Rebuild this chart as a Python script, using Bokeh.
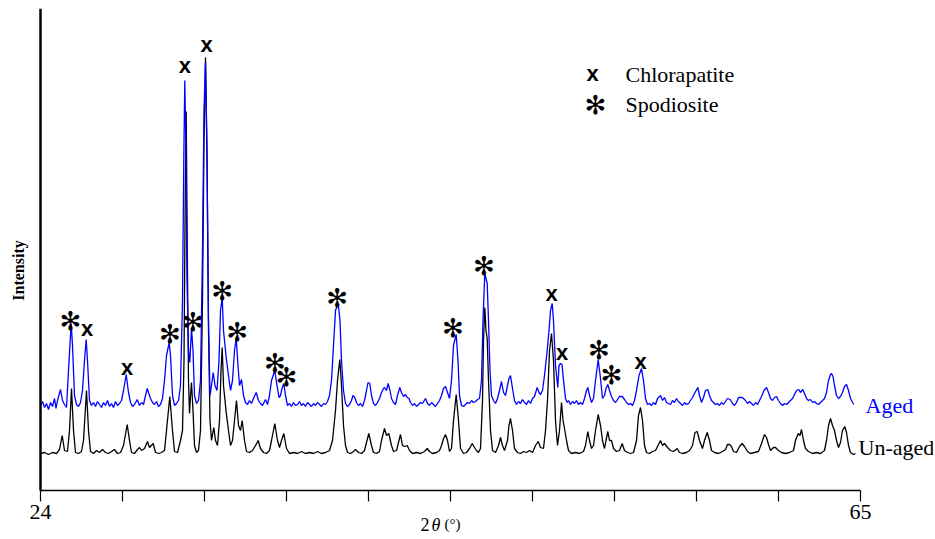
import math
from bokeh.plotting import figure
from bokeh.models import Range1d, FixedTicker, Label, ColumnDataSource
from bokeh.core.properties import value
from bokeh.embed import file_html
from bokeh.resources import INLINE

# ---- Un-aged pattern (2theta in degrees, intensity a.u.) ----
unaged_2theta = [24.00, 24.20, 24.40, 24.60, 24.80, 24.95, 25.085, 25.20, 25.35, 25.45, 25.55, 25.65, 25.75, 25.90,
    26.05, 26.15, 26.30, 26.40, 26.50, 26.65, 26.80, 26.95, 27.10, 27.25, 27.40, 27.55, 27.70, 27.85, 28.00,
    28.15, 28.335, 28.45, 28.55, 28.70, 28.85, 28.95, 29.05, 29.20, 29.35, 29.45, 29.635, 29.75, 29.90, 30.05,
    30.20, 30.30, 30.465, 30.60, 30.70, 30.85, 31.00, 31.10, 31.175, 31.235, 31.285, 31.34, 31.40, 31.45,
    31.50, 31.55, 31.625, 31.70, 31.80, 31.90, 32.00, 32.10, 32.175, 32.25, 32.325, 32.40, 32.475, 32.55,
    32.665, 32.75, 32.85, 32.95, 33.025, 33.085, 33.15, 33.285, 33.40, 33.50, 33.60, 33.70, 33.80, 33.90,
    34.00, 34.085, 34.20, 34.30, 34.45, 34.60, 34.75, 34.885, 35.00, 35.15, 35.30, 35.45, 35.55, 35.715,
    35.85, 35.95, 36.05, 36.165, 36.30, 36.45, 36.65, 36.85, 37.05, 37.25, 37.45, 37.65, 37.85, 38.05, 38.25,
    38.45, 38.60, 38.75, 38.85, 38.965, 39.05, 39.15, 39.25, 39.35, 39.50, 39.65, 39.75, 39.90, 40.05, 40.20,
    40.30, 40.415, 40.55, 40.65, 40.80, 40.95, 41.05, 41.20, 41.30, 41.415, 41.55, 41.65, 41.80, 41.90, 42.00,
    42.10, 42.20, 42.335, 42.45, 42.60, 42.80, 43.00, 43.20, 43.335, 43.45, 43.60, 43.80, 43.95, 44.05, 44.15,
    44.25, 44.35, 44.45, 44.55, 44.65, 44.785, 44.90, 45.00, 45.15, 45.30, 45.45, 45.585, 45.70, 45.80, 45.90,
    46.00, 46.10, 46.15, 46.215, 46.275, 46.335, 46.40, 46.50, 46.60, 46.75, 46.90, 47.00, 47.10, 47.20, 47.35,
    47.425, 47.50, 47.60, 47.70, 47.85, 48.00, 48.15, 48.30, 48.45, 48.60, 48.75, 48.885, 49.00, 49.15, 49.25,
    49.35, 49.45, 49.55, 49.65, 49.75, 49.85, 49.95, 50.05, 50.125, 50.20, 50.30, 50.40, 50.55, 50.75, 50.95,
    51.15, 51.25, 51.365, 51.45, 51.55, 51.65, 51.75, 51.885, 52.00, 52.10, 52.20, 52.275, 52.365, 52.45, 52.55,
    52.65, 52.80, 52.95, 53.085, 53.20, 53.35, 53.50, 53.65, 53.80, 53.90, 54.00, 54.10, 54.20, 54.30, 54.45,
    54.60, 54.75, 54.90, 55.00, 55.10, 55.20, 55.35, 55.50, 55.65, 55.835, 55.95, 56.10, 56.30, 56.45, 56.60,
    56.725, 56.835, 56.95, 57.10, 57.20, 57.335, 57.45, 57.55, 57.70, 57.90, 58.10, 58.25, 58.35, 58.45, 58.55,
    58.65, 58.80, 58.95, 59.085, 59.20, 59.35, 59.50, 59.70, 59.90, 60.05, 60.20, 60.30, 60.40, 60.50, 60.65,
    60.75, 60.90, 61.05, 61.25, 61.45, 61.65, 61.75, 61.885, 61.975, 62.05, 62.15, 62.25, 62.40, 62.60, 62.80,
    63.00, 63.20, 63.30, 63.40, 63.50, 63.60, 63.70, 63.80, 63.90, 64.00, 64.10, 64.215, 64.30, 64.40, 64.50,
    64.65, 64.75]
unaged_intensity = [37, 38, 36, 38, 37, 41, 55, 40, 39, 60, 102, 60, 38, 37,
    39, 50, 100, 60, 39, 37, 40, 38, 41, 38, 37, 39, 41, 37, 38,
    45, 66, 50, 38, 37, 41, 43, 40, 42, 49, 43, 47, 38, 37, 38,
    40, 60, 94, 60, 39, 38, 50, 60, 130, 290, 379, 240, 110, 77,
    95, 108, 80, 45, 38, 40, 60, 190, 350, 433, 340, 160, 70, 50,
    63, 50, 45, 70, 120, 143, 105, 78, 60, 45, 50, 70, 90, 65,
    60, 70, 50, 39, 38, 40, 45, 50, 42, 38, 37, 40, 50, 67,
    50, 43, 50, 57, 42, 37, 38, 37, 39, 37, 38, 37, 39, 37, 38,
    40, 50, 80, 110, 131, 105, 65, 45, 38, 37, 39, 41, 38, 37, 40,
    48, 57, 45, 38, 37, 39, 50, 62, 55, 57, 45, 39, 40, 48, 56,
    45, 44, 45, 40, 37, 38, 37, 39, 42, 39, 37, 38, 40, 45, 52,
    56, 50, 39, 42, 70, 96, 70, 42, 37, 38, 42, 47, 43, 40, 38,
    42, 90, 150, 183, 160, 152, 110, 60, 40, 38, 45, 53, 45, 40, 50,
    65, 72, 60, 42, 38, 37, 39, 38, 40, 38, 45, 49, 43, 42, 60,
    90, 140, 157, 130, 70, 45, 60, 88, 70, 62, 50, 40, 37, 38, 37,
    39, 45, 59, 50, 42, 45, 60, 76, 65, 50, 42, 50, 59, 50, 50,
    42, 39, 40, 47, 40, 38, 37, 38, 50, 75, 83, 70, 45, 38, 37,
    39, 40, 46, 50, 45, 47, 43, 40, 39, 42, 38, 37, 38, 40, 45,
    58, 59, 50, 42, 50, 58, 50, 40, 38, 37, 39, 41, 46, 46, 44,
    39, 38, 44, 47, 44, 39, 37, 38, 39, 47, 56, 53, 46, 40, 43,
    43, 40, 38, 37, 38, 40, 50, 57, 55, 61, 50, 42, 39, 37, 38,
    37, 40, 50, 65, 72, 65, 60, 50, 43, 48, 60, 64, 58, 45, 38,
    36, 37]

# ---- Aged pattern (2theta in degrees, intensity a.u., stacked) ----
aged_2theta = [24.00, 24.10, 24.20, 24.30, 24.40, 24.50, 24.60, 24.70, 24.775, 24.85, 25.00, 25.10, 25.20, 25.30,
    25.40, 25.535, 25.60, 25.70, 25.80, 25.90, 26.00, 26.10, 26.20, 26.285, 26.35, 26.45, 26.55, 26.65, 26.75,
    26.85, 26.95, 27.05, 27.15, 27.25, 27.35, 27.45, 27.55, 27.65, 27.75, 27.85, 27.95, 28.05, 28.15, 28.285,
    28.40, 28.50, 28.60, 28.70, 28.835, 28.95, 29.05, 29.15, 29.25, 29.335, 29.40, 29.50, 29.60, 29.70, 29.80,
    29.90, 30.00, 30.10, 30.20, 30.30, 30.435, 30.50, 30.60, 30.70, 30.80, 30.90, 31.00, 31.10, 31.17, 31.215,
    31.265, 31.325, 31.40, 31.465, 31.55, 31.625, 31.70, 31.80, 31.90, 32.00, 32.10, 32.175, 32.25, 32.325,
    32.40, 32.475, 32.55, 32.635, 32.725, 32.825, 32.925, 33.00, 33.085, 33.15, 33.285, 33.40, 33.50, 33.60,
    33.70, 33.785, 33.875, 33.95, 34.05, 34.15, 34.25, 34.35, 34.45, 34.55, 34.65, 34.785, 34.90, 35.00, 35.10,
    35.25, 35.35, 35.45, 35.55, 35.715, 35.825, 35.925, 36.00, 36.075, 36.165, 36.25, 36.35, 36.45, 36.55,
    36.65, 36.75, 36.85, 36.95, 37.05, 37.15, 37.25, 37.35, 37.45, 37.55, 37.65, 37.75, 37.85, 37.95, 38.05,
    38.15, 38.25, 38.35, 38.45, 38.55, 38.65, 38.75, 38.885, 38.975, 39.05, 39.15, 39.25, 39.35, 39.45, 39.55,
    39.625, 39.715, 39.80, 39.90, 40.00, 40.10, 40.20, 40.30, 40.375, 40.465, 40.55, 40.65, 40.75, 40.85,
    40.95, 41.05, 41.15, 41.20, 41.30, 41.385, 41.475, 41.55, 41.65, 41.75, 41.85, 41.965, 42.05, 42.15, 42.25,
    42.335, 42.425, 42.50, 42.60, 42.70, 42.80, 42.90, 43.00, 43.10, 43.25, 43.35, 43.45, 43.55, 43.65, 43.75,
    43.85, 43.95, 44.05, 44.15, 44.25, 44.35, 44.45, 44.55, 44.65, 44.785, 44.875, 44.95, 45.05, 45.15, 45.25,
    45.35, 45.45, 45.55, 45.65, 45.75, 45.85, 45.95, 46.05, 46.125, 46.215, 46.275, 46.335, 46.40, 46.475,
    46.55, 46.65, 46.75, 46.85, 46.95, 47.05, 47.15, 47.25, 47.35, 47.425, 47.50, 47.60, 47.70, 47.80, 47.90,
    48.00, 48.10, 48.20, 48.30, 48.40, 48.50, 48.60, 48.70, 48.835, 48.925, 49.00, 49.10, 49.20, 49.335, 49.425,
    49.50, 49.585, 49.65, 49.75, 49.865, 49.925, 50.00, 50.075, 50.15, 50.25, 50.335, 50.40, 50.50, 50.60,
    50.70, 50.80, 50.90, 51.00, 51.10, 51.20, 51.30, 51.365, 51.45, 51.55, 51.65, 51.75, 51.885, 52.00, 52.10,
    52.20, 52.275, 52.365, 52.45, 52.55, 52.65, 52.75, 52.85, 52.95, 53.085, 53.20, 53.30, 53.40, 53.50, 53.60,
    53.70, 53.80, 53.925, 54.05, 54.15, 54.25, 54.35, 54.45, 54.55, 54.65, 54.75, 54.85, 55.00, 55.10, 55.20,
    55.30, 55.40, 55.50, 55.60, 55.70, 55.80, 55.90, 56.00, 56.10, 56.20, 56.30, 56.40, 56.50, 56.60, 56.70,
    56.865, 56.95, 57.05, 57.15, 57.25, 57.365, 57.45, 57.55, 57.65, 57.75, 57.85, 57.95, 58.05, 58.15, 58.25,
    58.35, 58.485, 58.60, 58.70, 58.80, 58.90, 59.00, 59.085, 59.15, 59.25, 59.35, 59.45, 59.55, 59.65, 59.75,
    59.85, 59.95, 60.05, 60.175, 60.30, 60.40, 60.50, 60.60, 60.70, 60.80, 60.90, 61.00, 61.10, 61.20, 61.30,
    61.40, 61.50, 61.60, 61.70, 61.80, 61.915, 62.00, 62.115, 62.20, 62.30, 62.40, 62.50, 62.60, 62.70, 62.80,
    62.90, 63.00, 63.10, 63.20, 63.30, 63.40, 63.50, 63.55, 63.625, 63.70, 63.80, 63.90, 64.00, 64.10, 64.20,
    64.30, 64.40, 64.50, 64.60, 64.665]
aged_intensity = [85, 89, 83, 87, 81, 88, 84, 92, 82, 90, 101, 90, 86, 83,
    120, 167, 145, 95, 86, 84, 88, 100, 130, 151, 130, 90, 85, 88, 84,
    89, 86, 83, 88, 85, 90, 84, 87, 83, 89, 85, 87, 90, 100, 116,
    98, 88, 84, 86, 91, 85, 88, 86, 95, 102, 98, 92, 88, 86, 89,
    84, 86, 92, 110, 135, 148, 135, 95, 85, 87, 90, 105, 190, 340, 410,
    350, 210, 140, 128, 162, 140, 95, 87, 90, 110, 240, 380, 428, 330,
    170, 95, 105, 118, 105, 100, 130, 180, 193, 160, 133, 115, 100, 110,
    140, 152, 125, 105, 111, 95, 88, 86, 90, 87, 92, 98, 90, 87, 85,
    91, 86, 95, 110, 120, 105, 93, 95, 102, 107, 95, 85, 87, 84,
    88, 85, 86, 89, 85, 87, 84, 88, 86, 84, 87, 85, 88, 86, 84,
    87, 86, 89, 95, 110, 145, 180, 187, 170, 130, 100, 87, 84, 86, 90,
    95, 93, 88, 85, 87, 84, 90, 100, 108, 107, 95, 87, 85, 88,
    92, 98, 102, 103, 100, 107, 100, 92, 88, 86, 95, 103, 98, 94, 96,
    93, 92, 88, 85, 87, 84, 86, 88, 87, 92, 87, 85, 88, 86, 84,
    87, 90, 95, 102, 104, 98, 92, 110, 145, 156, 130, 95, 85, 84, 86,
    88, 87, 90, 88, 89, 91, 92, 110, 170, 217, 212, 207, 170, 120,
    95, 90, 87, 92, 100, 109, 98, 95, 105, 112, 115, 102, 90, 86, 89,
    87, 91, 88, 86, 90, 87, 92, 94, 103, 98, 96, 100, 115, 140, 160,
    180, 187, 170, 125, 103, 125, 127, 126, 110, 92, 88, 90, 86, 89,
    87, 90, 86, 88, 86, 92, 100, 103, 95, 88, 92, 110, 131, 112, 92,
    95, 102, 106, 100, 94, 90, 88, 91, 94, 94, 91, 88, 86, 87, 85,
    90, 100, 115, 122, 110, 92, 86, 87, 85, 88, 86, 92, 95, 90, 93,
    88, 87, 86, 90, 88, 92, 89, 87, 85, 88, 86, 87, 90, 93, 97,
    103, 95, 88, 93, 100, 101, 95, 90, 88, 86, 87, 85, 88, 86, 89,
    92, 91, 87, 85, 88, 93, 93, 93, 92, 90, 87, 89, 87, 85, 88,
    86, 90, 94, 100, 103, 98, 92, 90, 93, 94, 90, 87, 85, 87, 86,
    88, 90, 92, 96, 100, 101, 98, 101, 97, 92, 90, 91, 88, 89, 87,
    86, 88, 90, 92, 98, 110, 116, 117, 114, 105, 95, 92, 94, 98, 104,
    106, 100, 92, 88, 86]

# ---- Phase markers (2theta, label height) ----
chlor_2theta = [26.33, 28.33, 31.22, 32.30, 49.55, 50.08, 54.00]
chlor_height = [161.7, 123.3, 425, 446, 196.7, 138.3, 129]
spod_2theta = [25.50, 30.47, 31.62, 33.08, 33.83, 35.72, 36.30, 38.83, 44.62, 46.17, 51.92, 52.55]
spod_height = [170, 156.7, 169, 199.3, 158.3, 127.3, 114, 193, 162.7, 225, 140.7, 116]

# ---- Legend ----
legend_names = ["Chlorapatite", "Spodiosite"]
legend_symbol_x = [51.6, 51.75]
legend_text_x = [53.25, 53.25]
legend_y = [416, 386]

x_ticks = [24, 28.1, 32.2, 36.3, 40.4, 44.5, 48.6, 52.7, 56.8, 60.9, 65]
x_tick_labels = ["24", "", "", "", "", "", "", "", "", "", "65"]

SERIF = "Liberation Serif"
STAR = "\u273b"

p = figure(width=933, height=537, output_backend="svg", toolbar_location=None,
           x_range=Range1d(22.0, 68.65), y_range=Range1d(-47, 482),
           min_border_left=0, min_border_right=0, min_border_top=8, min_border_bottom=0)
p.outline_line_color = None
p.grid.visible = False
p.background_fill_color = "white"
p.border_fill_color = "white"

p.line(unaged_2theta, unaged_intensity, line_color="black", line_width=1.3)
p.line(aged_2theta, aged_intensity, line_color="#0000ff", line_width=1.3)

# legend texts (glyphs, serif)
src_leg = ColumnDataSource(dict(x=legend_text_x, y=legend_y, t=legend_names))
p.text(x="x", y="y", text="t", source=src_leg, text_align="left", text_baseline="middle",
       text_font=value(SERIF), text_font_size="22px", text_color="black")

src_c = ColumnDataSource(dict(x=chlor_2theta, y=chlor_height, t=["x"] * len(chlor_2theta)))
src_s = ColumnDataSource(dict(x=spod_2theta, y=spod_height, t=[STAR] * len(spod_2theta)))
p.text(x="x", y="y", text="t", source=src_c, text_align="center", text_baseline="middle",
       text_font=value("Liberation Sans"), text_font_style="bold", text_font_size="22px", text_color="black")
p.text(x="x", y="y", text="t", source=src_s, text_align="center", text_baseline="middle",
       text_font=value("DejaVu Sans"), text_font_style="bold", text_font_size="26px", text_color="black")
p.text(x=[legend_symbol_x[0]], y=[legend_y[0] + 1], text=["x"], text_align="center", text_baseline="middle",
       text_font=value("Liberation Sans"), text_font_style="bold", text_font_size="22px", text_color="black")
p.text(x=[legend_symbol_x[1]], y=[legend_y[1]], text=[STAR], text_align="center", text_baseline="middle",
       text_font=value("DejaVu Sans"), text_font_style="bold", text_font_size="26px", text_color="black")

# series labels
p.text(x=[65.25], y=[85], text=["Aged"], text_align="left", text_baseline="middle",
       text_font=value(SERIF), text_font_size="22px", text_color="#0000ff")
p.text(x=[64.9], y=[43], text=["Un-aged"], text_align="left", text_baseline="middle",
       text_font=value(SERIF), text_font_size="22px", text_color="black")

# x axis title pieces
p.text(x=[43.0], y=[-34], text=["2"], text_align="left", text_baseline="middle",
       text_font=value(SERIF), text_font_size="18px", text_color="black")
p.text(x=[43.55], y=[-34], text=["\u03b8"], text_align="left", text_baseline="middle",
       text_font=value(SERIF), text_font_style="italic", text_font_size="18px", text_color="black")
p.text(x=[44.2], y=[-33], text=["(\u00b0)"], text_align="left", text_baseline="middle",
       text_font=value(SERIF), text_font_size="15px", text_color="black")

# y axis title
p.add_layout(Label(x=22.9, y=220, text="Intensity", text_align="center", text_baseline="middle",
                   angle=math.pi / 2, text_font=SERIF, text_font_style="bold", text_font_size="16px",
                   text_color="black"))

xa = p.xaxis[0]
xa.fixed_location = 0
xa.bounds = (24, 65)
xa.ticker = FixedTicker(ticks=x_ticks)
xa.major_label_overrides = {t: l for t, l in zip(x_ticks, x_tick_labels)}
xa.axis_line_width = 1.5
xa.axis_line_color = "black"
xa.major_tick_line_color = "black"
xa.major_tick_line_width = 1.2
xa.major_tick_in = 0
xa.major_tick_out = 11
xa.minor_tick_line_color = None
xa.major_label_standoff = 3
xa.major_label_text_font = SERIF
xa.major_label_text_font_size = "22px"
xa.major_label_text_color = "black"

ya = p.yaxis[0]
ya.fixed_location = 24
ya.bounds = (0, 482)
ya.ticker = FixedTicker(ticks=[])
ya.axis_line_width = 2.5
ya.axis_line_color = "black"
ya.major_tick_line_color = None
ya.minor_tick_line_color = None
ya.major_label_text_font_size = "0px"

open("out.html", "w").write(file_html(p, INLINE))
